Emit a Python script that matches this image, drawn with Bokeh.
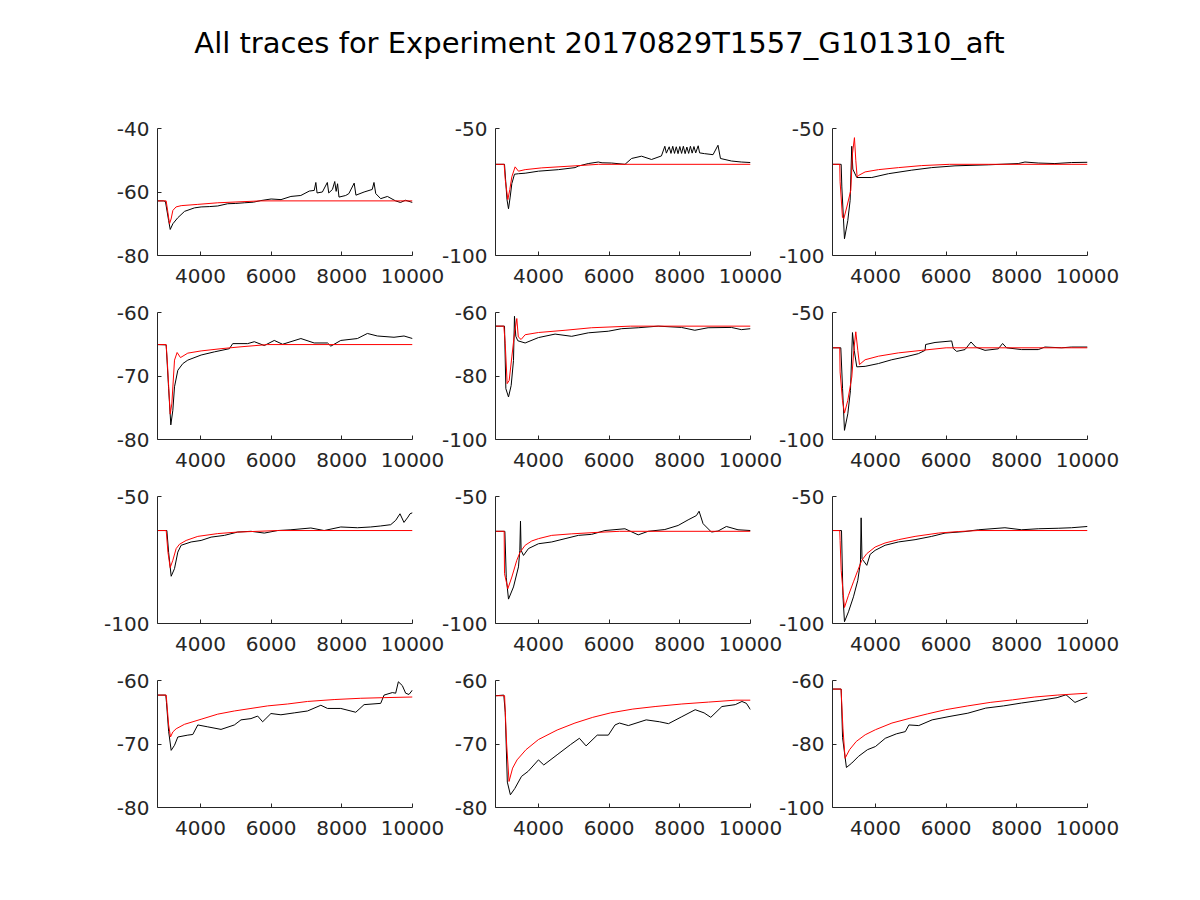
from bokeh.plotting import figure
from bokeh.layouts import column, row
from bokeh.models import FixedTicker, Range1d
from bokeh.embed import file_html
from bokeh.resources import INLINE

TITLE = "All traces for Experiment 20170829T1557_G101310_aft"
X_START, X_END = 2785, 10000
X_TICKS = [4000, 6000, 8000, 10000]

# ---- panel 1 ----
t1 = [2785, 2950, 3010, 3100, 3145, 3220, 3360, 3550, 3830, 4020, 4250, 4490, 4770, 5000, 5240, 5500, 5710, 6000,
      6280, 6560, 6840, 7080, 7220, 7265, 7300, 7450, 7590, 7630, 7735, 7800, 7840, 7880, 7920, 8110, 8200, 8350,
      8400, 8630, 8860, 8910, 8960, 9100, 9290, 9520, 9660, 9800, 10000]
v1 = [-62.8, -62.8, -63.0, -69.0, -71.8, -70.0, -68.1, -66.1, -65.0, -64.7, -64.6, -64.4, -63.7, -63.6, -63.4, -63.2,
      -62.7, -62.2, -62.4, -61.4, -61.1, -59.7, -59.5, -57.0, -60.3, -60.0, -57.0, -60.3, -59.2, -56.7, -59.8, -57.4,
      -61.6, -61.1, -60.5, -57.2, -61.0, -60.0, -59.2, -57.0, -60.5, -62.1, -61.4, -62.8, -63.3, -62.6, -63.3]
ft1 = [2785, 3030, 3080, 3125, 3170, 3220, 3310, 3455, 3925, 4490, 5700, 10000]
fv1 = [-62.8, -62.8, -66.5, -70.0, -68.5, -65.8, -64.7, -64.3, -63.9, -63.4, -62.8, -62.8]
ylim1, yt1 = (-80, -40), [-80, -60, -40]

# ---- panel 2 ----
t2 = [2785, 3040, 3070, 3110, 3153, 3200, 3247, 3322, 3435, 3624, 4000, 4565, 5035, 5130, 5410, 5694, 5800, 6070,
      6450, 6635, 6917, 7200, 7480, 7576, 7620, 7700, 7750, 7800, 7850, 7900, 7950, 8000, 8050, 8100, 8150, 8200,
      8250, 8300, 8350, 8400, 8450, 8520, 8560, 8700, 8940, 9080, 9150, 9460, 9740, 10000]
v2 = [-64.1, -64.1, -70.0, -78.0, -81.6, -77.0, -71.7, -68.0, -67.8, -67.6, -66.8, -66.2, -65.4, -64.8, -63.8, -63.2,
      -63.5, -63.6, -64.1, -61.8, -60.9, -62.2, -60.8, -57.0, -59.7, -57.2, -59.8, -57.0, -59.8, -57.2, -59.9, -57.1,
      -59.8, -57.0, -59.9, -57.3, -59.8, -57.0, -59.7, -57.1, -59.6, -56.8, -59.6, -59.9, -60.3, -56.6, -61.8, -62.8,
      -63.2, -63.4]
ft2 = [2785, 3030, 3060, 3134, 3190, 3247, 3340, 3435, 3624, 4094, 5035, 5700, 10000]
fv2 = [-64.1, -64.1, -70.0, -78.0, -74.0, -69.0, -65.1, -66.8, -66.2, -65.5, -64.7, -64.1, -64.1]
ylim2, yt2 = (-100, -50), [-100, -50]

# ---- panel 3 ----
t3 = [2785, 3030, 3049, 3124, 3218, 3284, 3330, 3360, 3472, 3896, 4367, 5027, 5592, 6251, 7193, 8041, 8230, 8606,
      9077, 9548, 10000]
v3 = [-64.1, -64.1, -73.0, -93.4, -86.2, -78.3, -57.0, -66.0, -69.3, -69.3, -67.8, -66.4, -65.4, -64.7, -64.3, -63.8,
      -63.2, -63.6, -63.8, -63.4, -63.3]
ft3 = [2785, 2990, 3000, 3067, 3105, 3190, 3303, 3350, 3406, 3444, 3482, 3520, 3708, 4085, 4650, 5310, 6100, 10000]
fv3 = [-64.1, -64.1, -71.0, -84.9, -85.5, -80.9, -74.3, -59.9, -53.6, -62.5, -69.1, -68.5, -67.1, -66.2, -65.4, -64.6,
       -64.1, -64.1]
ylim3, yt3 = (-100, -50), [-100, -50]

# ---- panel 4 ----
t4 = [2785, 3030, 3100, 3162, 3219, 3266, 3360, 3501, 3642, 4019, 4395, 4819, 4913, 5336, 5524, 5807, 6089, 6324,
      6842, 7218, 7595, 7689, 7971, 8441, 8724, 9006, 9477, 9760, 10000]
v4 = [-65.05, -65.1, -72.0, -77.7, -75.4, -71.7, -69.1, -68.05, -67.5, -66.7, -66.2, -65.7, -64.9, -64.9, -64.6,
      -65.2, -64.4, -65.0, -64.1, -64.8, -64.8, -65.3, -64.4, -64.1, -63.3, -63.7, -63.9, -63.7, -64.1]
ft4 = [2785, 3030, 3060, 3100, 3144, 3190, 3266, 3340, 3435, 3642, 4019, 4583, 5148, 5900, 10000]
fv4 = [-65.05, -65.05, -67.5, -71.5, -76.0, -74.4, -67.5, -66.3, -67.1, -66.4, -66.05, -65.7, -65.4, -65.05, -65.05]
ylim4, yt4 = (-80, -60), [-80, -70, -60]

# ---- panel 5 ----
t5 = [2785, 3040, 3078, 3153, 3228, 3294, 3322, 3360, 3416, 3624, 4000, 4471, 4941, 5412, 5976, 6353, 6823, 7388,
      8047, 8424, 8800, 9459, 9741, 10000]
v5 = [-64.3, -64.3, -84.0, -86.6, -83.0, -75.1, -61.2, -67.5, -68.9, -69.6, -67.9, -66.8, -67.5, -66.4, -65.9, -65.1,
      -64.8, -64.3, -64.7, -65.6, -64.8, -64.7, -65.4, -65.1]
ft5 = [2785, 3021, 3060, 3115, 3172, 3247, 3322, 3388, 3430, 3510, 3624, 4000, 4753, 5506, 6600, 10000]
fv5 = [-64.3, -64.3, -69.8, -82.4, -81.4, -74.0, -66.6, -61.9, -67.7, -68.5, -67.0, -66.3, -65.6, -64.8, -64.3, -64.3]
ylim5, yt5 = (-100, -60), [-100, -80, -60]

# ---- panel 6 ----
t6 = [2785, 3020, 3070, 3124, 3218, 3293, 3350, 3400, 3472, 3708, 4085, 4462, 4838, 5215, 5404, 5420, 5686, 6157,
      6204, 6298, 6534, 6704, 6836, 7100, 7476, 7598, 7710, 8136, 8607, 8795, 9266, 9548, 10000]
v6 = [-63.9, -63.9, -80.0, -96.4, -89.9, -80.7, -57.9, -64.9, -71.4, -71.2, -70.1, -68.6, -67.5, -66.2, -64.9, -62.6,
      -61.8, -61.2, -64.2, -65.3, -64.6, -61.6, -63.6, -64.9, -64.3, -62.2, -63.9, -64.6, -64.6, -63.6, -63.9, -63.6,
      -63.6]
ft6 = [2785, 2990, 3000, 3067, 3124, 3218, 3331, 3388, 3444, 3501, 3548, 3708, 4085, 4650, 5310, 6000, 10000]
fv6 = [-63.9, -63.9, -73.4, -84.6, -89.6, -84.6, -75.4, -64.9, -57.6, -64.9, -70.5, -68.6, -67.2, -65.9, -64.9,
       -63.9, -63.9]
ylim6, yt6 = (-100, -50), [-100, -50]

# ---- panel 7 ----
t7 = [2785, 3050, 3100, 3172, 3266, 3360, 3454, 3737, 4019, 4301, 4678, 5054, 5430, 5807, 6183, 6560, 7124, 7500,
      7971, 8442, 8818, 9100, 9383, 9524, 9646, 9759, 9872, 9930, 10000]
v7 = [-63.4, -63.4, -72.0, -81.4, -78.4, -71.9, -69.2, -67.9, -67.3, -66.0, -65.3, -64.0, -63.7, -64.4, -63.4, -63.1,
      -62.4, -63.4, -62.0, -62.3, -62.0, -61.6, -61.1, -59.4, -56.8, -60.2, -58.1, -56.8, -56.4]
ft7 = [2785, 3031, 3080, 3144, 3219, 3313, 3407, 3595, 3925, 4489, 5054, 6200, 10000]
fv7 = [-63.4, -63.4, -71.9, -78.0, -75.1, -70.5, -68.8, -67.3, -65.7, -64.6, -64.0, -63.4, -63.4]
ylim7, yt7 = (-100, -50), [-100, -50]

# ---- panel 8 ----
t8 = [2785, 3050, 3090, 3153, 3294, 3435, 3473, 3492, 3510, 3577, 3718, 4000, 4376, 4753, 5129, 5506, 5882, 6447,
      6823, 7105, 7576, 7953, 8235, 8470, 8545, 8658, 8894, 9082, 9317, 9646, 10000]
v8 = [-63.7, -63.7, -82.0, -90.4, -85.6, -77.7, -71.2, -59.7, -71.2, -73.2, -70.5, -68.6, -67.9, -66.6, -65.3, -64.9,
      -63.4, -62.7, -65.1, -63.7, -63.0, -61.4, -59.2, -57.5, -55.8, -60.7, -64.0, -63.6, -61.8, -63.1, -63.4]
ft8 = [2785, 3030, 3040, 3134, 3247, 3388, 3482, 3624, 3812, 4000, 4376, 4941, 5694, 6300, 10000]
fv8 = [-63.7, -63.7, -80.4, -86.3, -81.7, -75.1, -71.9, -69.2, -67.5, -66.6, -65.3, -64.7, -64.1, -63.7, -63.7]
ylim8, yt8 = (-100, -50), [-100, -50]

# ---- panel 9 ----
t9 = [2785, 3040, 3080, 3124, 3237, 3378, 3501, 3576, 3595, 3620, 3755, 3850, 3991, 4273, 4650, 5121, 5592, 5969,
      6534, 6911, 7664, 8135, 8606, 9171, 9548, 10000]
v9 = [-63.4, -63.4, -89.0, -99.3, -95.4, -89.5, -83.0, -75.8, -58.4, -74.5, -77.1, -72.8, -71.2, -69.2, -67.9, -67.0,
      -65.7, -64.4, -63.8, -63.1, -62.3, -63.1, -62.7, -62.5, -62.3, -61.8]
ft9 = [2785, 2990, 3000, 3030, 3124, 3237, 3378, 3501, 3614, 3755, 3991, 4273, 4650, 5121, 5780, 6346, 6900, 10000]
fv9 = [-63.4, -63.4, -67.3, -79.1, -93.7, -88.9, -83.6, -79.1, -75.1, -72.5, -69.9, -68.3, -67.0, -65.7, -64.4,
       -63.8, -63.4, -63.4]
ylim9, yt9 = (-100, -50), [-100, -50]

# ---- panel 10 ----
t10 = [2785, 3020, 3040, 3100, 3172, 3266, 3360, 3642, 3784, 3925, 4207, 4583, 4960, 5148, 5430, 5619, 5760, 5995,
       6277, 6654, 7030, 7407, 7595, 7971, 8395, 8630, 9100, 9195, 9430, 9524, 9600, 9712, 9806, 9900, 10000]
v10 = [-62.3, -62.3, -63.5, -68.0, -71.0, -70.2, -68.9, -68.6, -68.5, -67.0, -67.3, -67.7, -67.0, -66.2, -66.0,
       -65.6, -66.5, -65.2, -65.4, -65.1, -64.8, -63.9, -64.4, -64.4, -65.0, -63.8, -63.6, -62.3, -61.9, -62.0, -60.2,
       -60.8, -62.0, -62.2, -61.5]
ft10 = [2785, 3031, 3100, 3153, 3219, 3313, 3548, 4019, 4489, 4960, 5430, 5901, 6466, 7030, 7783, 8536, 9195, 10000]
fv10 = [-62.3, -62.3, -67.0, -68.9, -68.1, -67.6, -66.9, -66.1, -65.3, -64.8, -64.4, -64.0, -63.7, -63.3, -63.0,
        -62.8, -62.7, -62.6]
ylim10, yt10 = (-80, -60), [-80, -70, -60]

# ---- panel 11 ----
t11 = [2785, 3020, 3060, 3120, 3206, 3332, 3521, 3710, 4000, 4151, 4529, 4907, 5159, 5348, 5663, 5978, 6167, 6293,
       6545, 7049, 7427, 7679, 8057, 8435, 8687, 8876, 9191, 9569, 9758, 9884, 10000]
v11 = [-62.4, -62.3, -65.0, -76.0, -78.0, -77.0, -75.1, -74.3, -72.5, -73.3, -71.7, -70.1, -69.1, -70.3, -68.6,
       -68.6, -67.0, -66.7, -67.1, -66.2, -66.5, -66.8, -65.7, -64.6, -65.1, -65.8, -64.1, -63.8, -63.3, -63.6, -64.6]
ft11 = [2785, 3042, 3100, 3168, 3269, 3395, 3647, 4000, 4529, 5033, 5537, 6041, 6671, 7301, 8057, 8813, 9569, 10000]
fv11 = [-62.4, -62.4, -70.0, -75.9, -73.8, -72.5, -70.9, -69.3, -67.8, -66.7, -65.8, -65.1, -64.5, -64.1, -63.7,
        -63.4, -63.1, -63.1]
ylim11, yt11 = (-80, -60), [-80, -70, -60]

# ---- panel 12 ----
t12 = [2785, 3030, 3070, 3179, 3331, 3520, 3773, 4000, 4278, 4594, 4846, 4947, 5225, 5604, 6109, 6614, 7120, 7625,
       8130, 8635, 9140, 9393, 9645, 10000]
v12 = [-62.7, -62.7, -78.0, -87.4, -86.0, -83.9, -81.8, -80.8, -78.2, -76.8, -76.1, -74.0, -74.2, -72.4, -71.3, -70.3,
       -68.7, -68.0, -67.1, -66.3, -65.4, -64.5, -66.9, -65.2]
ft12 = [2785, 3027, 3080, 3141, 3267, 3457, 3710, 4000, 4467, 4973, 5478, 5983, 6614, 7246, 7877, 8509, 9140, 10000]
fv12 = [-62.7, -62.7, -75.0, -84.5, -81.8, -79.2, -77.1, -75.5, -73.4, -71.9, -70.5, -69.2, -68.0, -66.9, -66.1,
        -65.2, -64.6, -64.0]
ylim12, yt12 = (-100, -60), [-100, -80, -60]

panels = [
    (t1, v1, ft1, fv1, ylim1, yt1), (t2, v2, ft2, fv2, ylim2, yt2), (t3, v3, ft3, fv3, ylim3, yt3),
    (t4, v4, ft4, fv4, ylim4, yt4), (t5, v5, ft5, fv5, ylim5, yt5), (t6, v6, ft6, fv6, ylim6, yt6),
    (t7, v7, ft7, fv7, ylim7, yt7), (t8, v8, ft8, fv8, ylim8, yt8), (t9, v9, ft9, fv9, ylim9, yt9),
    (t10, v10, ft10, fv10, ylim10, yt10), (t11, v11, ft11, fv11, ylim11, yt11), (t12, v12, ft12, fv12, ylim12, yt12),
]

AX = "#262626"
FONT = "DejaVu Sans"


def make_panel(idx, t, v, ft, fv, ylim, yt):
    col = idx % 3
    left = 157 if col == 0 else 70
    right = 45 if col < 2 else 40
    p = figure(frame_width=255, frame_height=127,
               min_border_left=left, min_border_right=right,
               min_border_top=15, min_border_bottom=42,
               x_range=Range1d(X_START, X_END), y_range=Range1d(*ylim),
               toolbar_location=None, output_backend="svg")
    if col > 0:
        p.margin = (0, 0, 0, -32 if col == 1 else -33)
    p.background_fill_color = None
    p.border_fill_color = None
    p.outline_line_color = None
    p.grid.visible = False
    p.xaxis.ticker = FixedTicker(ticks=X_TICKS)
    p.yaxis.ticker = FixedTicker(ticks=yt)
    p.xaxis.major_label_overrides = {k: str(k) for k in X_TICKS}
    p.yaxis.major_label_overrides = {k: str(k) for k in yt}
    for ax in (p.xaxis[0], p.yaxis[0]):
        ax.axis_line_color = AX
        ax.axis_line_width = 1
        ax.major_tick_line_color = AX
        ax.major_tick_in = 4
        ax.major_tick_out = 0
        ax.minor_tick_line_color = None
        ax.major_label_text_color = AX
        ax.major_label_text_font = FONT
        ax.major_label_text_font_size = "20px"
    p.xaxis.major_label_standoff = 13
    p.yaxis.major_label_standoff = 8
    p.line(t, v, line_color="#000000", line_width=1)
    p.line(ft, fv, line_color="#ff0000", line_width=1)
    return p


figs = [make_panel(i, *pn) for i, pn in enumerate(panels)]

head = figure(width=1198, height=113, toolbar_location=None, output_backend="svg",
              min_border_left=0, min_border_right=0, min_border_top=64, min_border_bottom=0,
              x_range=Range1d(0, 1), y_range=Range1d(0, 1))
head.title.text = TITLE
head.title.align = "center"
head.title.text_font = FONT
head.title.text_font_size = "29px"
head.title.text_font_style = "normal"
head.title.text_color = "#000000"
head.axis.visible = False
head.grid.visible = False
head.outline_line_color = None
head.background_fill_color = None
head.border_fill_color = None

layout = column(head,
                row(figs[0], figs[1], figs[2]),
                row(figs[3], figs[4], figs[5]),
                row(figs[6], figs[7], figs[8]),
                row(figs[9], figs[10], figs[11]))

open("out.html", "w").write(file_html(layout, INLINE))
